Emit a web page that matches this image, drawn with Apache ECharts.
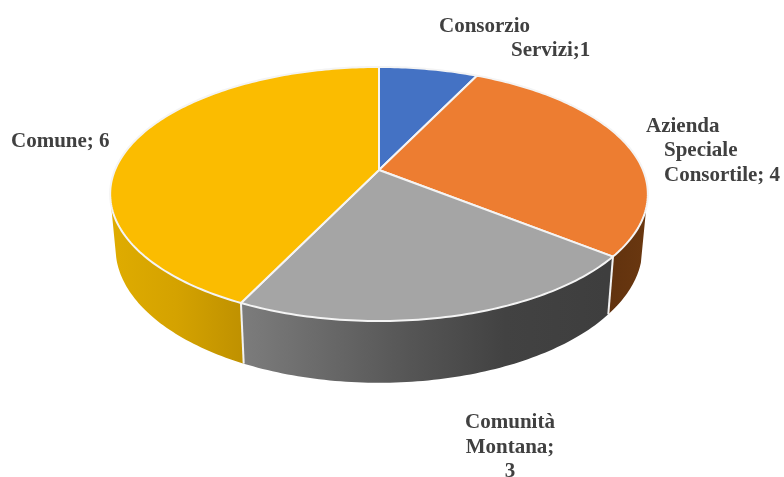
<!DOCTYPE html>
<html>
<head>
<meta charset="utf-8">
<style>html,body{margin:0;padding:0;background:#fff}#c{width:784px;height:477px}</style>
<script src="https://cdn.jsdelivr.net/npm/echarts@6/dist/echarts.min.js"></script>
</head>
<body>
<div id="c"></div>
<script>
const categories = ['Consorzio Servizi', 'Azienda Speciale Consortile', 'Comunità Montana', 'Comune'];
const values = [1, 4, 3, 6];
const topColors = ['#4472C4', '#ED7D31', '#A5A5A5', '#FBBC00'];
const labelLines = [
  ['Consorzio', 'Servizi;1'],
  ['Azienda', 'Speciale', 'Consortile; 4'],
  ['Comunità', 'Montana;', '3'],
  ['Comune; 6']
];

// Perspective projection of the pie's circle
const CX = 379, CY = 170, A = 264, B = 122.5, K = 0.189, DEPTH = 52.5, SHRINK = 0.98;
const WALL_FROM = 107, WALL_TO = 255;
const total = values.reduce((s, v) => s + v, 0);

function project(deg, bottom) {
  const t = deg * Math.PI / 180, x = Math.sin(t), y = -Math.cos(t), w = 1 - K * y;
  const s = bottom ? SHRINK : 1;
  return [CX + s * A * x / w, CY + s * B * y / w + (bottom ? DEPTH / w : 0)];
}
function arc(a0, a1, bottom) {
  const n = Math.max(2, Math.ceil(Math.abs(a1 - a0)));
  const pts = [];
  for (let i = 0; i <= n; i++) pts.push(project(a0 + (a1 - a0) * i / n, bottom));
  return pts;
}
const gradient = (x0, x1, stops) => new echarts.graphic.LinearGradient(x0, 0, x1, 0,
  stops.map(s => ({ offset: s[0], color: s[1] })), true);
const wallFills = [
  '#2f5288',
  gradient(600, 650, [[0, '#5f310e'], [1, '#6b3810']]),
  gradient(243, 607, [[0, '#7c7c7c'], [0.45, '#565656'], [0.72, '#424242'], [1, '#3e3e3e']]),
  gradient(112, 243, [[0, '#dfac00'], [0.5, '#d4a200'], [1, '#bf9100']])
];
const labelPlaces = [
  [[439, 16, 'left'], [511, 40, 'left']],
  [[646, 116, 'left'], [664, 140, 'left'], [664, 165, 'left']],
  [[510, 412, 'center'], [510, 437, 'center'], [510, 461, 'center']],
  [[11, 131, 'left']]
];

function renderItem(params, api) {
  const i = params.dataIndex;
  let before = 0;
  for (let j = 0; j < i; j++) before += values[j];
  const a0 = before / total * 360, a1 = (before + api.value(0)) / total * 360;
  const children = [];

  const w0 = Math.max(a0, WALL_FROM), w1 = Math.min(a1, WALL_TO);
  if (w1 > w0) {
    children.push({
      type: 'polygon',
      shape: { points: arc(w0, w1, false).concat(arc(w1, w0, true)) },
      style: { fill: wallFills[i] }
    });
    if (a0 >= WALL_FROM) {
      children.push({
        type: 'line',
        shape: { x1: project(a0, false)[0], y1: project(a0, false)[1], x2: project(a0, true)[0], y2: project(a0, true)[1] },
        style: { stroke: '#f2f2f2', lineWidth: 2 }
      });
    }
  }
  children.push({
    type: 'polygon',
    shape: { points: [[CX, CY]].concat(arc(a0, a1, false)) },
    style: { fill: topColors[i], stroke: '#f4f4f4', lineWidth: 2, lineJoin: 'round' }
  });
  labelLines[i].forEach((line, n) => {
    const p = labelPlaces[i][n];
    children.push({
      type: 'text',
      style: {
        x: p[0], y: p[1], text: line, align: p[2], verticalAlign: 'top',
        font: 'bold 21px "Liberation Serif"', fill: '#404040'
      }
    });
  });
  return { type: 'group', children };
}

const chart = echarts.init(document.getElementById('c'), null, { renderer: 'canvas' });
chart.setOption({
  animation: false,
  backgroundColor: '#ffffff',
  series: [{
    type: 'custom',
    coordinateSystem: 'none',
    silent: true,
    renderItem,
    data: values.map((v, i) => ({ name: categories[i], value: [v] }))
  }]
});
</script>
</body>
</html>
